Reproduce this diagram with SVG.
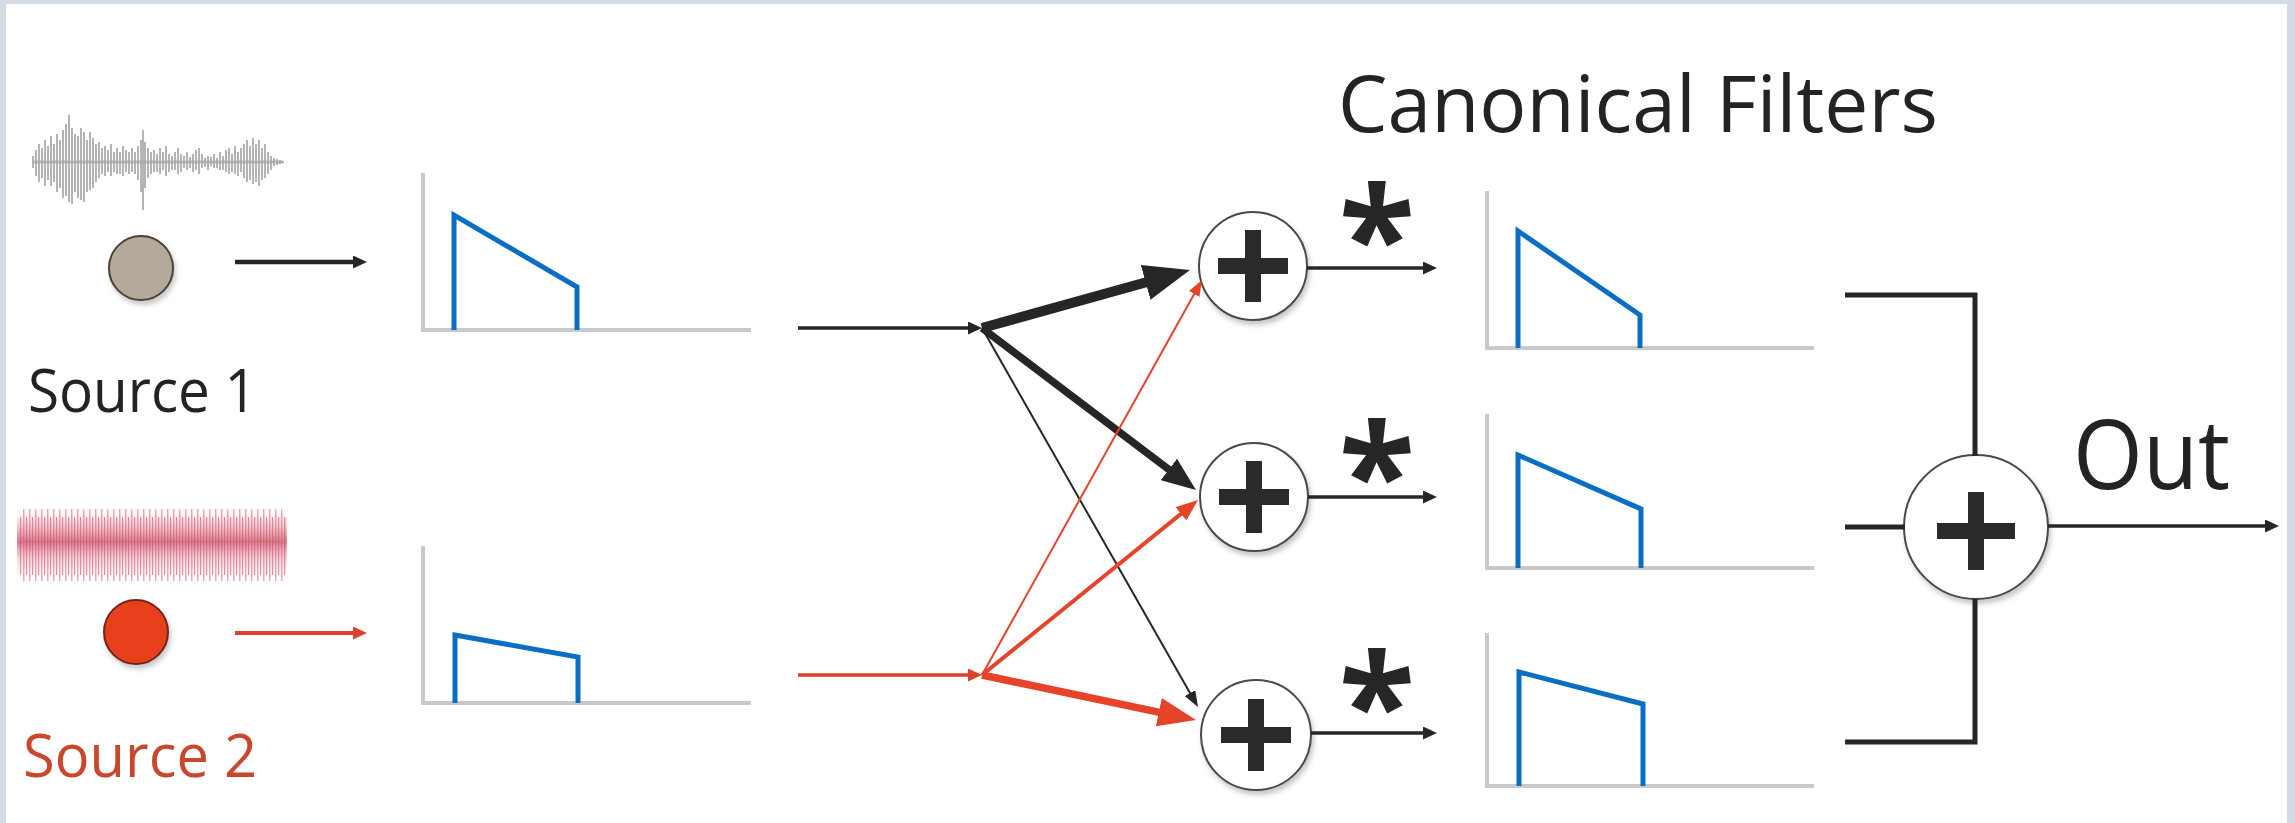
<svg xmlns="http://www.w3.org/2000/svg" width="2295" height="823" viewBox="0 0 2295 823">
<defs>
<style>
.axis{fill:none;stroke:#c9c9c9;stroke-width:4;stroke-linecap:square}
.resp{fill:none;stroke:#0a6fc4;stroke-width:5;stroke-linejoin:miter}
.bk{fill:none;stroke:#262626;stroke-linecap:butt}
.rd{fill:none;stroke:#e5432a;stroke-linecap:butt}
.sum{fill:#fff;stroke:#4a4a4a;stroke-width:2}
.plus{fill:none;stroke:#2a2a2a;stroke-width:16}
.lbl{font-family:"Open Sans","Noto Sans","Liberation Sans",sans-serif;fill:#232323}
.ast{font-family:"Open Sans","Noto Sans","Liberation Sans",sans-serif;font-weight:bold;fill:#262626;text-anchor:middle}
</style>
<filter id="sh" x="-20%" y="-20%" width="150%" height="150%">
<feDropShadow dx="2" dy="4" stdDeviation="2.5" flood-color="#000" flood-opacity="0.22"/>
</filter>
<filter id="blur1" x="-5%" y="-20%" width="110%" height="140%">
<feGaussianBlur stdDeviation="0.5"/>
</filter>
<marker id="mkS" markerUnits="userSpaceOnUse" viewBox="0 0 14 13" markerWidth="14" markerHeight="13" refX="7" refY="6.5" orient="auto"><path d="M0,0L14,6.5L0,13z" fill="#262626"/></marker>
<marker id="mkSr" markerUnits="userSpaceOnUse" viewBox="0 0 14 13" markerWidth="14" markerHeight="13" refX="7" refY="6.5" orient="auto"><path d="M0,0L14,6.5L0,13z" fill="#dc412c"/></marker>
<marker id="mkB1" markerUnits="userSpaceOnUse" viewBox="0 0 46 36" markerWidth="46" markerHeight="36" refX="23" refY="18" orient="auto"><path d="M0,0L46,18L0,36z" fill="#262626"/></marker>
<marker id="mkB2" markerUnits="userSpaceOnUse" viewBox="0 0 34 27" markerWidth="34" markerHeight="27" refX="17" refY="13.5" orient="auto"><path d="M0,0L34,13.5L0,27z" fill="#262626"/></marker>
<marker id="mkT" markerUnits="userSpaceOnUse" viewBox="0 0 16 12" markerWidth="16" markerHeight="12" refX="8" refY="6" orient="auto"><path d="M0,0L16,6L0,12z" fill="#262626"/></marker>
<marker id="mkTr" markerUnits="userSpaceOnUse" viewBox="0 0 16 12" markerWidth="16" markerHeight="12" refX="8" refY="6" orient="auto"><path d="M0,0L16,6L0,12z" fill="#e5432a"/></marker>
<marker id="mkR5" markerUnits="userSpaceOnUse" viewBox="0 0 22 17" markerWidth="22" markerHeight="17" refX="11" refY="8.5" orient="auto"><path d="M0,0L22,8.5L0,17z" fill="#e5432a"/></marker>
<marker id="mkR6" markerUnits="userSpaceOnUse" viewBox="0 0 38 29" markerWidth="38" markerHeight="29" refX="19" refY="14.5" orient="auto"><path d="M0,0L38,14.5L0,29z" fill="#e5432a"/></marker>
<pattern id="rwLines" patternUnits="userSpaceOnUse" width="6" height="76" x="17" y="507">
<rect x="0" y="2" width="1.5" height="72" fill="#e3899a"/>
<rect x="3" y="10" width="1.2" height="58" fill="#d66a80"/>
</pattern>
<linearGradient id="rwCore" x1="0" y1="0" x2="0" y2="1">
<stop offset="0" stop-color="#e07d8f" stop-opacity="0"/>
<stop offset="0.2" stop-color="#dc7086" stop-opacity="0.35"/>
<stop offset="0.45" stop-color="#c8425c" stop-opacity="0.7"/>
<stop offset="0.7" stop-color="#dc7086" stop-opacity="0.3"/>
<stop offset="1" stop-color="#eeb0bb" stop-opacity="0"/>
</linearGradient>
</defs>

<rect x="0" y="0" width="2295" height="823" fill="#d3dce5"/>
<rect x="6" y="4" width="2281" height="819" fill="#ffffff"/>

<g id="source1">
<path d="M33,156V168M36,150V176M39,144V182M42,148V178M45,140V186M48,146V180M51,136V186M54,144V182M57,134V192M60,140V188M63,130V198M66,124V196M69,115V202M72,128V204M75,134V192M78,136V198M81,128V200M84,132V202M87,140V192M90,132V190M93,138V188M96,144V182M99,142V178M102,148V174M105,146V176M108,150V172M111,144V176M114,152V172M117,148V174M120,152V174M123,146V176M126,150V172M129,152V174M132,148V172M135,152V174M138,146V180M141,140V192M143,130V210M145,142V188M148,148V178M151,152V174M154,150V172M157,154V172M160,148V174M163,152V170M166,146V176M169,154V172M172,156V170M175,152V170M178,148V174M181,154V172M184,156V168M187,152V170M190,157V168M193,154V172M196,150V170M199,148V174M202,154V168M205,158V167M208,156V170M211,157V166M214,154V168M217,158V168M220,152V170M223,156V170M226,150V172M229,148V174M232,154V172M235,146V174M238,152V176M241,148V172M244,144V178M247,140V182M250,146V180M253,138V184M256,144V182M259,140V186M262,148V180M265,144V178M268,152V174M271,156V170M274,158V166M277,159V165M280,160V164M283,161V163" fill="none" stroke="#a3a3a3" stroke-width="1.8" opacity="0.9"/>
<path d="M33,162H283" stroke="#a3a3a3" stroke-width="3" opacity="0.7"/>
<circle cx="141" cy="268" r="32" fill="#b4aa9c" stroke="#4d3f35" stroke-width="2" filter="url(#sh)"/>
<text class="lbl" x="28" y="412" font-size="61" textLength="229" lengthAdjust="spacingAndGlyphs">Source 1</text>
</g>

<g id="source2">
<g filter="url(#blur1)">
<rect x="19" y="507" width="268" height="76" fill="url(#rwLines)" opacity="0.75"/>
<rect x="17" y="512" width="270" height="66" rx="6" fill="url(#rwCore)"/>
</g>
<circle cx="136" cy="632" r="32" fill="#e8411d" stroke="#6b2a18" stroke-width="2" filter="url(#sh)"/>
<text class="lbl" x="23" y="777" font-size="61" textLength="234" lengthAdjust="spacingAndGlyphs" style="fill:#c9472d">Source 2</text>
</g>

<g id="spectrum1">
<path class="axis" d="M423,175V330H749"/>
<path class="resp" d="M454,330V215L577,287V330"/>
</g>
<g id="spectrum2">
<path class="axis" d="M423,548V703H749"/>
<path class="resp" d="M455,703V635L578,657V703"/>
</g>

<g id="title">
<text class="lbl" x="1338" y="132" font-size="79" textLength="600" lengthAdjust="spacingAndGlyphs">Canonical Filters</text>
</g>

<g id="sum1" transform="translate(1253,266)">
<circle class="sum" r="54" filter="url(#sh)"/>
<path class="plus" d="M-35,0H35M0,-36V36"/>
</g>
<g id="sum2" transform="translate(1254,497)">
<circle class="sum" r="54" filter="url(#sh)"/>
<path class="plus" d="M-35,0H35M0,-36V36"/>
</g>
<g id="sum3" transform="translate(1256,735)">
<circle class="sum" r="55" filter="url(#sh)"/>
<path class="plus" d="M-35,0H35M0,-36V36"/>
</g>

<g id="conv-labels">
<text class="ast" x="1377" y="288" font-size="140">*</text>
<text class="ast" x="1377" y="525" font-size="140">*</text>
<text class="ast" x="1377" y="755" font-size="140">*</text>
</g>

<g id="filter1">
<path class="axis" d="M1487,193V348H1812"/>
<path class="resp" d="M1518,348V231L1640,315V348"/>
</g>
<g id="filter2">
<path class="axis" d="M1487,416V568H1812"/>
<path class="resp" d="M1518,568V455L1641,509V568"/>
</g>
<g id="filter3">
<path class="axis" d="M1487,635V786H1812"/>
<path class="resp" d="M1519,786V672L1643,704V786"/>
</g>

<g id="outSum" transform="translate(1976,527)">
<circle class="sum" r="72" filter="url(#sh)"/>
<path class="plus" d="M-39,4H39M0,-35V43"/>
</g>
<g id="outLabel">
<text class="lbl" x="2073" y="489" font-size="97" textLength="157" lengthAdjust="spacingAndGlyphs">Out</text>
</g>

<g id="connectors">
<line class="bk" x1="235" y1="262" x2="360" y2="262" stroke-width="4.5" marker-end="url(#mkS)"/>
<line class="rd" x1="235" y1="633" x2="360" y2="633" stroke-width="4" style="stroke:#dc412c" marker-end="url(#mkSr)"/>
<line class="bk" x1="798" y1="328" x2="975" y2="328" stroke-width="3.5" marker-end="url(#mkS)"/>
<line class="rd" x1="798" y1="675" x2="975" y2="675" stroke-width="3.5" style="stroke:#dc412c" marker-end="url(#mkSr)"/>
<line class="bk" x1="982" y1="328" x2="1167.8" y2="276.2" stroke-width="10" marker-end="url(#mkB1)"/>
<line class="bk" x1="982" y1="328" x2="1182.4" y2="479.7" stroke-width="7.5" marker-end="url(#mkB2)"/>
<line class="bk" x1="982" y1="328" x2="1194" y2="700" stroke-width="2" marker-end="url(#mkT)"/>
<line class="rd" x1="982" y1="675" x2="1198.1" y2="287" stroke-width="2" marker-end="url(#mkTr)"/>
<line class="rd" x1="982" y1="675" x2="1189.5" y2="506.9" stroke-width="4" marker-end="url(#mkR5)"/>
<line class="rd" x1="982" y1="675" x2="1177.4" y2="716.1" stroke-width="7.5" marker-end="url(#mkR6)"/>
<line class="bk" x1="1307" y1="268" x2="1430" y2="268" stroke-width="3.5" marker-end="url(#mkS)"/>
<line class="bk" x1="1308" y1="497" x2="1430" y2="497" stroke-width="3.5" marker-end="url(#mkS)"/>
<line class="bk" x1="1311" y1="733" x2="1430" y2="733" stroke-width="3.5" marker-end="url(#mkS)"/>
<path class="bk" d="M1845,295H1975V456" stroke-width="5"/>
<path class="bk" d="M1845,527H1905" stroke-width="5"/>
<path class="bk" d="M1845,742H1975V599" stroke-width="5"/>
<line class="bk" x1="2048" y1="526" x2="2272" y2="526" stroke-width="3.5" marker-end="url(#mkS)"/>
</g>
</svg>
